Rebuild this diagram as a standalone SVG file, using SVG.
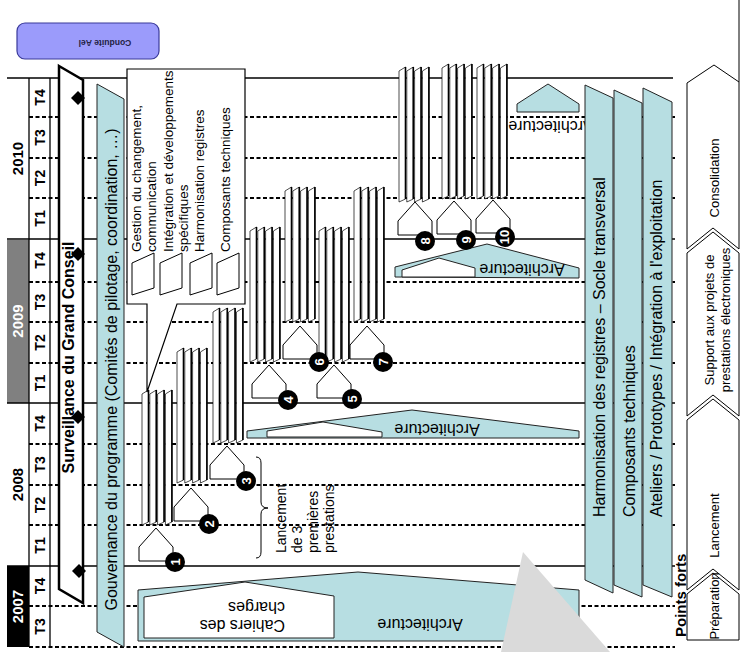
<svg xmlns="http://www.w3.org/2000/svg" width="740" height="652" viewBox="0 0 740 652">
<style>
text { font-family: "Liberation Sans", Arial, sans-serif; }
.solid { stroke:#000; stroke-width:1.3; fill:none; }
.dash { stroke:#000; stroke-width:1.8; stroke-dasharray:4 2.5; fill:none; }
.blue { fill:#b7dee2; stroke:#222; stroke-width:1; }
.inner { fill:#fff; stroke:#222; stroke-width:1; }
.bar { fill:#fff; stroke:#000; stroke-width:0.7; }
.edge { stroke:#000; stroke-width:1.6; }
.house { fill:#fff; stroke:#000; stroke-width:1; }
.icon { fill:#fff; stroke:#000; stroke-width:1; }
.chev { fill:#fff; stroke:#000; stroke-width:1; }
.yr { font-size:15px; font-weight:bold; text-anchor:middle; }
.q { font-size:14px; font-weight:bold; text-anchor:middle; }
.num { font-size:13px; font-weight:bold; fill:#fff; text-anchor:middle; }
.l16 { font-size:16px; }
.call { font-size:13.5px; }
.ph { font-size:13px; text-anchor:middle; }
</style>
<defs>
  <!-- stack of four thin sheets -->
  <g id="stack">
    <polygon class="bar" points="0,4 6.5,0 6.5,132 0,135"/>
    <line class="edge" x1="6.5" y1="0" x2="6.5" y2="132"/>
    <polygon class="bar" points="7.8,4 14.3,0 14.3,132 7.8,135"/>
    <line class="edge" x1="14.3" y1="0" x2="14.3" y2="132"/>
    <polygon class="bar" points="15.6,4 22.1,0 22.1,132 15.6,135"/>
    <line class="edge" x1="22.1" y1="0" x2="22.1" y2="132"/>
    <polygon class="bar" points="23.4,4 29.9,0 29.9,132 23.4,135"/>
    <line class="edge" x1="29.9" y1="0" x2="29.9" y2="132"/>
  </g>
  <polygon id="house" class="house" points="0,33 0,19 17,0 34,19 34,33"/>
  <polygon id="doc" class="icon" points="0,10 22,0 22,35 0,42"/>
</defs>

<!-- time grid -->
<g id="grid">
  <rect x="7" y="240" width="22" height="163" fill="#808080"/>
  <rect x="7" y="566" width="22" height="81" fill="#000"/>
  <line class="solid" x1="7" y1="78" x2="673" y2="78"/>
  <line class="solid" x1="7" y1="239" x2="675" y2="239"/>
  <line class="solid" x1="7" y1="403" x2="675" y2="403"/>
  <line class="solid" x1="7" y1="566" x2="675" y2="566"/>
  <line class="dash" x1="29" y1="117" x2="675" y2="117"/>
  <line class="dash" x1="29" y1="158" x2="675" y2="158"/>
  <line class="dash" x1="29" y1="198" x2="675" y2="198"/>
  <line class="dash" x1="29" y1="282" x2="675" y2="282"/>
  <line class="dash" x1="29" y1="322" x2="675" y2="322"/>
  <line class="dash" x1="29" y1="363" x2="675" y2="363"/>
  <line class="dash" x1="29" y1="444" x2="675" y2="444"/>
  <line class="dash" x1="29" y1="485" x2="675" y2="485"/>
  <line class="dash" x1="29" y1="525" x2="675" y2="525"/>
  <line class="dash" x1="29" y1="606" x2="675" y2="606"/>
  <line class="dash" x1="29" y1="647" x2="675" y2="647"/>
  <line class="solid" x1="29" y1="78" x2="29" y2="647"/>
  <line class="solid" x1="50" y1="78" x2="50" y2="647"/>
  <text class="yr" transform="translate(23,158.5) rotate(-90)">2010</text>
  <text class="yr" fill="#fff" transform="translate(23,321) rotate(-90)">2009</text>
  <text class="yr" transform="translate(23,484.5) rotate(-90)">2008</text>
  <text class="yr" fill="#fff" transform="translate(23,606.5) rotate(-90)">2007</text>
  <text class="q" transform="translate(45,97.5) rotate(-90)">T4</text>
  <text class="q" transform="translate(45,137.5) rotate(-90)">T3</text>
  <text class="q" transform="translate(45,178) rotate(-90)">T2</text>
  <text class="q" transform="translate(45,218.5) rotate(-90)">T1</text>
  <text class="q" transform="translate(45,260.5) rotate(-90)">T4</text>
  <text class="q" transform="translate(45,302) rotate(-90)">T3</text>
  <text class="q" transform="translate(45,342.5) rotate(-90)">T2</text>
  <text class="q" transform="translate(45,383) rotate(-90)">T1</text>
  <text class="q" transform="translate(45,423.5) rotate(-90)">T4</text>
  <text class="q" transform="translate(45,464.5) rotate(-90)">T3</text>
  <text class="q" transform="translate(45,505) rotate(-90)">T2</text>
  <text class="q" transform="translate(45,545.5) rotate(-90)">T1</text>
  <text class="q" transform="translate(45,586) rotate(-90)">T4</text>
  <text class="q" transform="translate(45,626.5) rotate(-90)">T3</text>
</g>

<!-- header tag -->
<g id="conduite">
  <rect x="17" y="23" width="142" height="36" rx="8" fill="#9b9bfb" stroke="#3a3a9a" stroke-width="1.2"/>
  <text transform="translate(105,40) rotate(180)" text-anchor="middle" font-size="8.6" font-weight="bold" fill="#222244">Conduite Ael</text>
</g>

<!-- Grand Conseil oversight -->
<g id="surveillance">
  <polygon points="59,66 83,80 83,603 59,589" fill="#fff" stroke="#000" stroke-width="2.5"/>
  <text transform="translate(74,357.5) rotate(-90)" text-anchor="middle" font-size="16" font-weight="bold">Surveillance du Grand Conseil</text>
  <polygon points="78,91 85,98 78,105 71,98" fill="#000"/>
  <polygon points="78,247 85,254 78,261 71,254" fill="#000"/>
  <polygon points="78,410 85,417 78,424 71,417" fill="#000"/>
  <polygon points="79,564 86,571 79,578 72,571" fill="#000"/>
</g>

<!-- programme governance -->
<g id="gouvernance">
  <polygon class="blue" points="97,84 124,99 124,647 97,632"/>
  <text class="l16" transform="translate(117,369.5) rotate(-90)" text-anchor="middle">Gouvernance du programme (Comités de pilotage, coordination, …)</text>
</g>

<!-- architecture phases -->
<g id="arch1">
  <polygon class="blue" points="138,641 138,590 358,572 579,590 579,641"/>
  <polygon class="inner" points="144,638 144,597 245,582 334,596 334,638"/>
  <text class="l16" transform="translate(285,620) rotate(180)">Cahiers des</text>
  <text class="l16" transform="translate(285,602) rotate(180)">charges</text>
  <text class="l16" transform="translate(420,619) rotate(180)" text-anchor="middle">Architecture</text>
</g>
<g id="arch2">
  <polygon class="blue" points="247,438 247,431 412,410 579,431 579,438"/>
  <polygon class="inner" points="267,437 267,431 323,422 382,432 382,437"/>
  <text class="l16" transform="translate(437,424) rotate(180)" text-anchor="middle">Architecture</text>
</g>
<g id="arch3">
  <polygon class="blue" points="395,277 395,267 487,244 579,268 579,278"/>
  <polygon class="inner" points="402,277 402,270 439,258 475,268 475,277"/>
  <text class="l16" transform="translate(522,264) rotate(180)" text-anchor="middle">Architecture</text>
</g>
<g id="arch4">
  <polygon class="blue" points="517,112 517,104 548,84 579,104 579,112"/>
  <text class="l16" transform="translate(551,121) rotate(180)" text-anchor="middle">Architecture</text>
</g>

<!-- service delivery stacks -->
<g id="stacks">
  <use href="#stack" x="142" y="390"/>
  <use href="#stack" x="177" y="348"/>
  <use href="#stack" x="213" y="308"/>
  <use href="#stack" x="250" y="227"/>
  <use href="#stack" x="285" y="187"/>
  <use href="#stack" x="319" y="227"/>
  <use href="#stack" x="354" y="187"/>
  <use href="#stack" x="399" y="67"/>
  <use href="#stack" x="442" y="64"/>
  <use href="#stack" x="477" y="64"/>
</g>

<!-- numbered milestones -->
<g id="m1"><use href="#house" x="139" y="528"/><circle cx="175" cy="562" r="10"/><text class="num" transform="translate(175,562) rotate(-90)" y="4.6">1</text></g>
<g id="m2"><use href="#house" x="174" y="488"/><circle cx="209" cy="524" r="10"/><text class="num" transform="translate(209,524) rotate(-90)" y="4.6">2</text></g>
<g id="m3"><use href="#house" x="210" y="446"/><circle cx="246" cy="481" r="10"/><text class="num" transform="translate(246,481) rotate(-90)" y="4.6">3</text></g>
<g id="m4"><use href="#house" x="252" y="365"/><circle cx="288" cy="400" r="10"/><text class="num" transform="translate(288,400) rotate(-90)" y="4.6">4</text></g>
<g id="m5"><use href="#house" x="317" y="365"/><circle cx="352" cy="399" r="10"/><text class="num" transform="translate(352,399) rotate(-90)" y="4.6">5</text></g>
<g id="m6"><use href="#house" x="283" y="326"/><circle cx="319" cy="362" r="10"/><text class="num" transform="translate(319,362) rotate(-90)" y="4.6">6</text></g>
<g id="m7"><use href="#house" x="350" y="326"/><circle cx="383" cy="362" r="10"/><text class="num" transform="translate(383,362) rotate(-90)" y="4.6">7</text></g>
<g id="m8"><use href="#house" x="398" y="202"/><circle cx="425" cy="241" r="10"/><text class="num" transform="translate(425,241) rotate(-90)" y="4.6">8</text></g>
<g id="m9"><use href="#house" x="437" y="201"/><circle cx="466" cy="240" r="10"/><text class="num" transform="translate(466,240) rotate(-90)" y="4.6">9</text></g>
<g id="m10"><use href="#house" x="476" y="200"/><circle cx="505" cy="237" r="10"/><text class="num" font-size="11" transform="translate(505,237) rotate(-90)" y="4">10</text></g>

<!-- first three services -->
<g id="lancement3">
  <path d="M256,457 Q261,457 261,463 L261,502 Q261,508 268,508 Q261,508 261,514 L261,552 Q261,558 256,558" fill="none" stroke="#000" stroke-width="1"/>
  <text font-size="14" transform="translate(286,553) rotate(-90)">Lancement</text>
  <text font-size="14" transform="translate(302,553) rotate(-90)">de 3</text>
  <text font-size="14" transform="translate(318,553) rotate(-90)">premières</text>
  <text font-size="14" transform="translate(334,553) rotate(-90)">prestations</text>
</g>

<!-- callout listing the work streams -->
<g id="callout">
  <path d="M127,69 H245 V304 H177 L147,392 V304 H127 Z" fill="#fff" stroke="#000" stroke-width="1.2"/>
  <text class="call" transform="translate(140.5,252) rotate(-90)">Gestion du changement,</text>
  <text class="call" transform="translate(156,252) rotate(-90)">communication</text>
  <text class="call" transform="translate(172.5,252) rotate(-90)">Intégration et développements</text>
  <text class="call" transform="translate(187.5,252) rotate(-90)">spécifiques</text>
  <text class="call" transform="translate(203.5,252) rotate(-90)">Harmonisation registres</text>
  <text class="call" transform="translate(229.5,252) rotate(-90)">Composants techniques</text>
  <use href="#doc" x="132" y="253"/>
  <use href="#doc" x="160" y="253"/>
  <use href="#doc" x="190" y="253"/>
  <use href="#doc" x="217" y="253"/>
</g>

<!-- transversal work streams -->
<g id="harmonisation">
  <polygon class="blue" points="585,85 613,98 613,593 585,580"/>
  <text class="l16" transform="translate(605,517) rotate(-90)">Harmonisation des registres – Socle transversal</text>
</g>
<g id="composants">
  <polygon class="blue" points="614,90 642,103 642,597 614,585"/>
  <text class="l16" transform="translate(634.5,517) rotate(-90)">Composants techniques</text>
</g>
<g id="ateliers">
  <polygon class="blue" points="643,88 672,102 672,597 643,585"/>
  <text class="l16" transform="translate(662,517) rotate(-90)">Ateliers / Prototypes / Intégration à l'exploitation</text>
</g>

<!-- highlight wedge -->
<polygon id="wedge" points="523,552 501,652 610,652" fill="#dadada"/>

<!-- key phases -->
<g id="points-forts">
  <text transform="translate(686,637) rotate(-90)" font-size="15" font-weight="bold">Points forts</text>
</g>
<g id="consolidation">
  <polygon class="chev" points="687,83 714,65 739,82 739,249 713,228 687,249"/>
  <line x1="739" y1="0" x2="739" y2="82" stroke="#000" stroke-width="1"/>
  <text class="ph" transform="translate(719,178) rotate(-90)">Consolidation</text>
</g>
<g id="support">
  <polygon class="chev" points="687,253 713,232 739,253 739,416 713,395 687,416"/>
  <text class="ph" transform="translate(713.5,320) rotate(-90)">Support aux projets de</text>
  <text class="ph" transform="translate(730,320) rotate(-90)">prestations électroniques</text>
</g>
<g id="lancement">
  <polygon class="chev" points="687,420 713,399 739,420 739,590 713,569 687,590"/>
  <text class="ph" transform="translate(719,525.5) rotate(-90)">Lancement</text>
</g>
<g id="preparation">
  <polygon class="chev" points="687,594 713,573 739,594 739,640 687,640"/>
  <text class="ph" transform="translate(719,606) rotate(-90)">Préparation</text>
</g>
</svg>
